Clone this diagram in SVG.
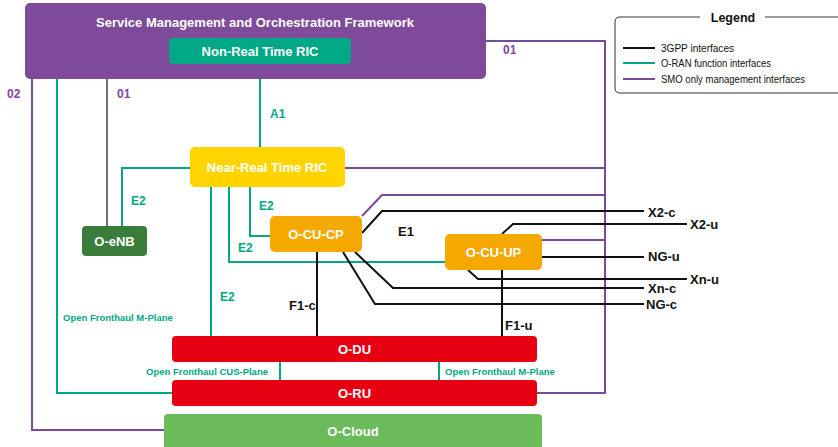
<svg xmlns="http://www.w3.org/2000/svg" width="838" height="447" viewBox="0 0 838 447">
<style>
text{font-family:"Liberation Sans",Arial,sans-serif;font-weight:bold}
.nt{fill:#fff;font-size:13px;text-anchor:middle}
.bk{fill:none;stroke:#111;stroke-width:2}
.gr{fill:none;stroke:#00a886;stroke-width:2}
.pu{fill:none;stroke:#7d4a98;stroke-width:2}
.lg{fill:#00a886;font-size:12px}
.lp{fill:#7d4a98;font-size:12px}
.lb{fill:#111;font-size:13px}
.sm{fill:#00a886;font-size:9.5px}
.leg{fill:#111;font-size:11.5px;font-weight:normal}
</style>
<rect width="838" height="447" fill="#fff"/>
<g id="connectors">
<polyline class="pu" points="486,41 605,41 605,393 537,393"/>
<polyline class="pu" points="32,79 32,430 164,430"/>
<polyline class="gr" points="57,79 57,393 172,393"/>
<line x1="107" y1="79" x2="107" y2="226" stroke="#111" stroke-width="1.2"/>
<line class="gr" x1="260" y1="64" x2="260" y2="147"/>
<line class="pu" x1="345" y1="168" x2="605" y2="168"/>
<polyline class="gr" points="190,168 122,168 122,226"/>
<line class="gr" x1="211" y1="187" x2="211" y2="336"/>
<polyline class="gr" points="229,187 229,262 445,262"/>
<polyline class="gr" points="250,187 250,236 270,236"/>
<polyline class="pu" points="362,216 382,195 605,195"/>
<polyline class="bk" points="362,233 382,211 644,211"/>
<polyline class="bk" points="502,234 513,224 687,224"/>
<line class="pu" x1="542" y1="240" x2="605" y2="240"/>
<line class="bk" x1="542" y1="257" x2="644" y2="257"/>
<polyline class="bk" points="468,270 478,279 687,279"/>
<polyline class="bk" points="355,252 393,288 644,288"/>
<polyline class="bk" points="343,252 375,304 644,304"/>
<line class="bk" x1="317" y1="252" x2="317" y2="336"/>
<line class="bk" x1="502" y1="270" x2="502" y2="336"/>
<line class="gr" x1="280" y1="362" x2="280" y2="380"/>
<line class="gr" x1="439" y1="362" x2="439" y2="380"/>
<text class="lp" x="7" y="98">02</text>
<text class="lp" x="117" y="98">01</text>
<text class="lp" x="503" y="54">01</text>
<text class="lg" x="270" y="118">A1</text>
<text class="lg" x="131" y="205">E2</text>
<text class="lg" x="259" y="210">E2</text>
<text class="lg" x="238" y="252">E2</text>
<text class="lg" x="220" y="301">E2</text>
<text class="lb" x="398" y="236" font-size="12">E1</text>
<text class="lb" x="289" y="310">F1-c</text>
<text class="lb" x="505" y="330">F1-u</text>
<text class="lb" x="648" y="217">X2-c</text>
<text class="lb" x="690" y="229">X2-u</text>
<text class="lb" x="648" y="261">NG-u</text>
<text class="lb" x="690" y="284">Xn-u</text>
<text class="lb" x="648" y="293">Xn-c</text>
<text class="lb" x="646" y="309">NG-c</text>
<text class="sm" x="63" y="321">Open Fronthaul M-Plane</text>
<text class="sm" x="268" y="375" text-anchor="end">Open Fronthaul CUS-Plane</text>
<text class="sm" x="445" y="375">Open Fronthaul M-Plane</text>
</g>
<g id="smo">
<rect x="25" y="3" width="461" height="76" rx="5" fill="#7f4a9a"/>
<text class="nt" x="255" y="27">Service Management and Orchestration Framework</text>
</g>
<g id="non-rt-ric">
<rect x="169" y="38" width="182" height="26" rx="4" fill="#00a886"/>
<text class="nt" x="260" y="56">Non-Real Time RIC</text>
</g>
<g id="near-rt-ric">
<rect x="190" y="147" width="155" height="40" rx="5" fill="#ffd400"/>
<text class="nt" x="267" y="172">Near-Real Time RIC</text>
</g>
<g id="o-enb">
<rect x="82" y="226" width="65" height="30" rx="4" fill="#3a7d3b"/>
<text class="nt" x="114.5" y="246">O-eNB</text>
</g>
<g id="o-cu-cp">
<rect x="270" y="216" width="92" height="36" rx="5" fill="#f5a800"/>
<text class="nt" x="316" y="239">O-CU-CP</text>
</g>
<g id="o-cu-up">
<rect x="445" y="234" width="97" height="36" rx="5" fill="#f5a800"/>
<text class="nt" x="493.5" y="257">O-CU-UP</text>
</g>
<g id="o-du">
<rect x="172" y="336" width="365" height="26" rx="4" fill="#e60012"/>
<text class="nt" x="354.5" y="354">O-DU</text>
</g>
<g id="o-ru">
<rect x="172" y="380" width="365" height="26" rx="4" fill="#e60012"/>
<text class="nt" x="354.5" y="398">O-RU</text>
</g>
<g id="o-cloud">
<rect x="164" y="414" width="378" height="40" rx="4" fill="#6bbb5b"/>
<text class="nt" x="353" y="436">O-Cloud</text>
</g>
<g id="legend">
<path d="M700,17 H620 Q615,17 615,22 V88 Q615,93 620,93 H838 M765,17 H838" fill="none" stroke="#333" stroke-width="1"/>
<text x="733" y="22" text-anchor="middle" font-size="12.5" fill="#111">Legend</text>
<line x1="623" y1="48" x2="655" y2="48" stroke="#111" stroke-width="2"/>
<line x1="623" y1="63" x2="655" y2="63" stroke="#00a886" stroke-width="2"/>
<line x1="623" y1="79" x2="655" y2="79" stroke="#7d4a98" stroke-width="2"/>
<text class="leg" x="661" y="52" textLength="73" lengthAdjust="spacingAndGlyphs">3GPP interfaces</text>
<text class="leg" x="661" y="67" textLength="110" lengthAdjust="spacingAndGlyphs">O-RAN function interfaces</text>
<text class="leg" x="661" y="83" textLength="144" lengthAdjust="spacingAndGlyphs">SMO only management interfaces</text>
</g>
</svg>
